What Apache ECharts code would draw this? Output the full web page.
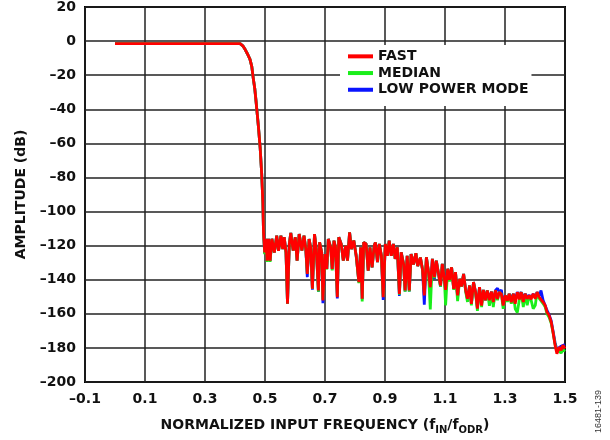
<!DOCTYPE html>
<html>
<head>
<meta charset="utf-8">
<script src="https://cdn.jsdelivr.net/npm/echarts@6/dist/echarts.min.js"></script>
<style>
html,body{margin:0;padding:0;background:#fff;}
#chart{width:610px;height:440px;}
</style>
</head>
<body>
<div id="chart"></div>
<script>
// Normalized input frequency (fIN/fODR)
var freq = [0.000,0.100,0.200,0.300,0.417,0.426,0.434,0.443,0.450,0.456,0.461,0.466,0.470,0.478,0.484,0.489,0.493,0.495,
0.499,0.503,0.507,0.512,0.517,0.523,0.531,0.539,0.545,0.553,0.559,0.564,0.570,0.575,0.581,0.586,0.594,0.601,0.607,0.614,0.623,0.630,
0.636,0.641,0.647,0.652,0.658,0.665,0.671,0.678,0.682,0.689,0.693,0.700,0.706,0.711,0.719,0.724,0.730,0.735,0.741,0.746,
0.754,0.761,0.769,0.775,0.782,0.788,0.796,0.804,0.813,0.819,0.824,0.829,0.837,0.844,0.850,0.857,0.864,0.868,0.875,0.881,
0.888,0.894,0.901,0.908,0.914,0.921,0.928,0.934,0.941,0.948,0.954,0.962,0.967,0.974,0.981,0.987,0.995,1.003,1.009,1.018,
1.025,1.031,1.038,1.045,1.051,1.058,1.065,1.071,1.078,1.085,1.091,1.098,1.102,1.109,1.115,1.122,1.129,1.135,1.142,1.149,
1.155,1.162,1.169,1.175,1.182,1.188,1.195,1.202,1.208,1.215,1.222,1.228,1.235,1.241,1.248,1.255,1.261,1.268,1.275,1.281,
1.288,1.294,1.301,1.308,1.314,1.321,1.328,1.334,1.341,1.348,1.354,1.361,1.367,1.374,1.381,1.387,1.394,1.401,1.407,1.414,
1.420,1.427,1.434,1.440,1.447,1.454,1.460,1.467,1.473,1.480,1.487,1.493,1.500];

var fast = [-1.5,-1.5,-1.5,-1.5,-1.5,-2.8,-5,-8,-10.7,-15,-22,-28,-35,-50,-63,-78,-95,-112,
-124,-116,-128.8,-116,-128.8,-116,-124,-114.2,-123,-114.2,-122,-115.1,-123.9,-154.1,-119,-112.6,-122.9,-115.1,-128.8,-113.2,-122.9,-114.2,
-122,-136.6,-116.1,-121,-145.3,-113.2,-122,-146.3,-118,-124,-152.2,-125,-133.6,-116.1,-121,-133.6,-117.1,-121,-150.2,-115.1,
-119,-128.8,-120,-128.8,-112.2,-122,-117,-126,-141.4,-121,-151.2,-118.1,-119,-134.6,-121,-132.7,-120,-118.1,-129.7,-119,
-126,-150.2,-119,-126,-117.1,-126,-119,-127.8,-121,-148.3,-123.9,-131,-146.3,-126,-146.3,-124.9,-131,-124.5,-132,-127,
-134,-149.2,-126.8,-135.6,-144.4,-127.8,-138.5,-128.8,-136,-143.4,-130.7,-139.5,-146,-133.6,-140,-132.7,-145.3,-135.6,-149.2,-139.5,
-144,-136.6,-146.3,-151.2,-143.4,-154.1,-141.4,-147.3,-157,-144.4,-155.1,-146,-152,-146.3,-152,-147,-153,-146.3,-151.2,-147.3,
-148.5,-155.1,-149.2,-152.2,-148.3,-153.1,-148.3,-154.1,-147.3,-151.5,-147.3,-153.1,-148.3,-151.2,-149.2,-151.5,-148.3,-151.2,-147.3,-150.2,
-149.2,-153.1,-155.1,-159,-160.9,-164.8,-170.7,-178.5,-183.4,-179.5,-181.4,-178.5,-180.4];

var median = [-1.5,-1.5,-1.5,-1.5,-1.5,-2.8,-5,-8,-10.7,-15,-22,-28,-35,-50,-63,-78,-95,-112,
-125,-116,-129.5,-116,-129.5,-116,-124,-114.2,-123,-114.2,-122,-115.1,-124.5,-154.1,-119,-112.6,-122.9,-115.1,-128.8,-113.2,-122.9,-114.2,
-122,-136.6,-116.1,-121,-145.3,-113.2,-122,-147,-118,-124,-151.5,-125,-134,-116.1,-121,-134.5,-117.1,-121,-149.5,-115.1,
-119,-128.8,-120,-128.8,-112.2,-122,-117,-126,-142,-121,-152.7,-118.1,-119,-134.6,-121,-132.7,-120,-118.1,-129.7,-119,
-126,-150,-119,-126,-117.1,-126,-119,-127.8,-121,-148.8,-123.9,-131,-147,-126,-147,-124.9,-131,-124.5,-132,-127,
-134,-147,-126.8,-135.6,-157.4,-127.8,-139,-128.8,-136,-144,-130.7,-140,-155,-133.6,-141,-132.7,-146,-135.6,-152.5,-139.5,
-144,-136.6,-147,-153,-143.4,-155,-141.4,-148,-158.3,-144.4,-156,-146,-152,-146.3,-155.3,-147,-156,-146.3,-152,-147.3,
-148.5,-157,-149.2,-153,-148.3,-154,-148.3,-157,-159.2,-151.5,-147.3,-156,-148.3,-155,-149.2,-152,-157,-155,-147.3,-151,
-150,-154,-156,-160,-162,-165.5,-171,-178,-182,-182,-183,-181,-182];

var lowPower = [-1.5,-1.5,-1.5,-1.5,-1.5,-2.8,-5,-8,-10.7,-15,-22,-28,-35,-50,-63,-78,-95,-112,
-124.5,-116,-129,-116,-129,-116,-124,-114.2,-123,-114.2,-122,-115.1,-124,-154.1,-119,-112.6,-122.9,-115.1,-128.8,-113.2,-122.9,-114.2,
-122,-138.5,-116.1,-121,-145.8,-113.2,-122,-147,-118,-124,-153.8,-125,-133.6,-116.1,-121,-134,-117.1,-121,-151,-115.1,
-119,-128.8,-120,-128.8,-112.2,-122,-117,-126,-141.4,-121,-151.5,-118.1,-119,-134.6,-121,-132.7,-120,-118.1,-129.7,-119,
-126,-151.8,-119,-126,-117.1,-126,-119,-127.8,-121,-149.5,-123.9,-131,-146.8,-126,-146.8,-124.9,-131,-124.5,-132,-127,
-134,-154.7,-126.8,-135.6,-145,-127.8,-139.5,-128.8,-136,-144,-130.7,-139.5,-147,-133.6,-140,-132.7,-145.3,-135.6,-150,-139.5,
-144,-136.6,-146.3,-151.5,-143.4,-154.1,-141.4,-147.3,-156,-144.4,-154,-146,-152,-146.3,-152,-147,-154.1,-146.3,-145,-147.3,
-146,-154,-149.2,-152.2,-148.3,-151,-148.3,-152,-147.3,-149.5,-147.3,-151,-148.3,-150,-149.2,-150.5,-148.3,-150.5,-147.3,-149.5,
-146.3,-152,-155.1,-158,-160.5,-164,-170,-177,-181,-180,-179,-178,-178];

var yTicks = [20,0,-20,-40,-60,-80,-100,-120,-140,-160,-180,-200];
var seriesNames = ['FAST','MEDIAN','LOW POWER MODE'];
var seriesColors = ['#ff0000','#1aee1a','#0a14ff'];

function pairs(arr){ var out=[]; for(var i=0;i<freq.length;i++){ out.push([freq[i], arr[i]]); } return out; }
function dash(v, d){ var s = (d===undefined)? String(v) : Number(v).toFixed(d); return s.replace('-', '\u2013'); }

var FONT = '"DejaVu Sans", "Liberation Sans", Arial, sans-serif';
var chart = echarts.init(document.getElementById('chart'), null, {renderer:'canvas'});
chart.setOption({
  animation:false,
  backgroundColor:'#ffffff',
  grid:{left:85, right:45, top:7, bottom:57.5, show:true, borderColor:'#000', borderWidth:2, containLabel:false},
  legend:{
    data:seriesNames, orient:'vertical', left:340, top:45,
    backgroundColor:'#ffffff', padding:[3,3,8,8], itemGap:0,
    icon:'rect', itemWidth:25, itemHeight:4,
    textStyle:{fontFamily:FONT, fontWeight:'bold', fontSize:14, color:'#111', lineHeight:16.7}
  },
  xAxis:{
    type:'value', min:-0.1, max:1.5, interval:0.2,
    axisLine:{show:false}, axisTick:{show:false},
    splitLine:{show:true, lineStyle:{color:'#222', width:1.5}},
    axisLabel:{fontFamily:FONT, fontWeight:'bold', fontSize:14, color:'#111', margin:10,
      formatter:function(v){ return dash(v,1); }},
    name:'NORMALIZED INPUT FREQUENCY (f{sub|IN}/f{sub|ODR})',
    nameLocation:'middle', nameGap:33,
    nameTextStyle:{fontFamily:FONT, fontWeight:'bold', fontSize:14, color:'#111', lineHeight:20,
      rich:{sub:{fontFamily:FONT, fontWeight:'bold', fontSize:10, color:'#111', lineHeight:10, verticalAlign:'bottom'}}}
  },
  yAxis:{
    type:'value', min:-200, max:20, interval:20,
    axisLine:{show:false}, axisTick:{show:false},
    splitLine:{show:true, lineStyle:{color:'#222', width:1.5}},
    axisLabel:{fontFamily:FONT, fontWeight:'bold', fontSize:14, color:'#111', margin:9,
      formatter:function(v){ return yTicks.indexOf(v)>=0 ? dash(v) : ''; }},
    name:'AMPLITUDE (dB)', nameLocation:'middle', nameGap:57, nameRotate:90,
    nameTextStyle:{fontFamily:FONT, fontWeight:'bold', fontSize:14, color:'#111'}
  },
  graphic:[{
    type:'text', x:603, y:433, rotation:Math.PI/2,
    style:{text:'16481-139', font:'9px "Liberation Sans", Arial, sans-serif', fill:'#333', textAlign:'left', textVerticalAlign:'bottom'}
  }],
  series:[
    {name:seriesNames[2], type:'line', data:pairs(lowPower), showSymbol:false, symbol:'none', color:seriesColors[2], lineStyle:{width:2.8, color:seriesColors[2]}, z:2},
    {name:seriesNames[1], type:'line', data:pairs(median), showSymbol:false, symbol:'none', color:seriesColors[1], lineStyle:{width:2.8, color:seriesColors[1]}, z:3},
    {name:seriesNames[0], type:'line', data:pairs(fast), showSymbol:false, symbol:'none', color:seriesColors[0], lineStyle:{width:2.8, color:seriesColors[0]}, z:4}
  ]
});
</script>
</body>
</html>
